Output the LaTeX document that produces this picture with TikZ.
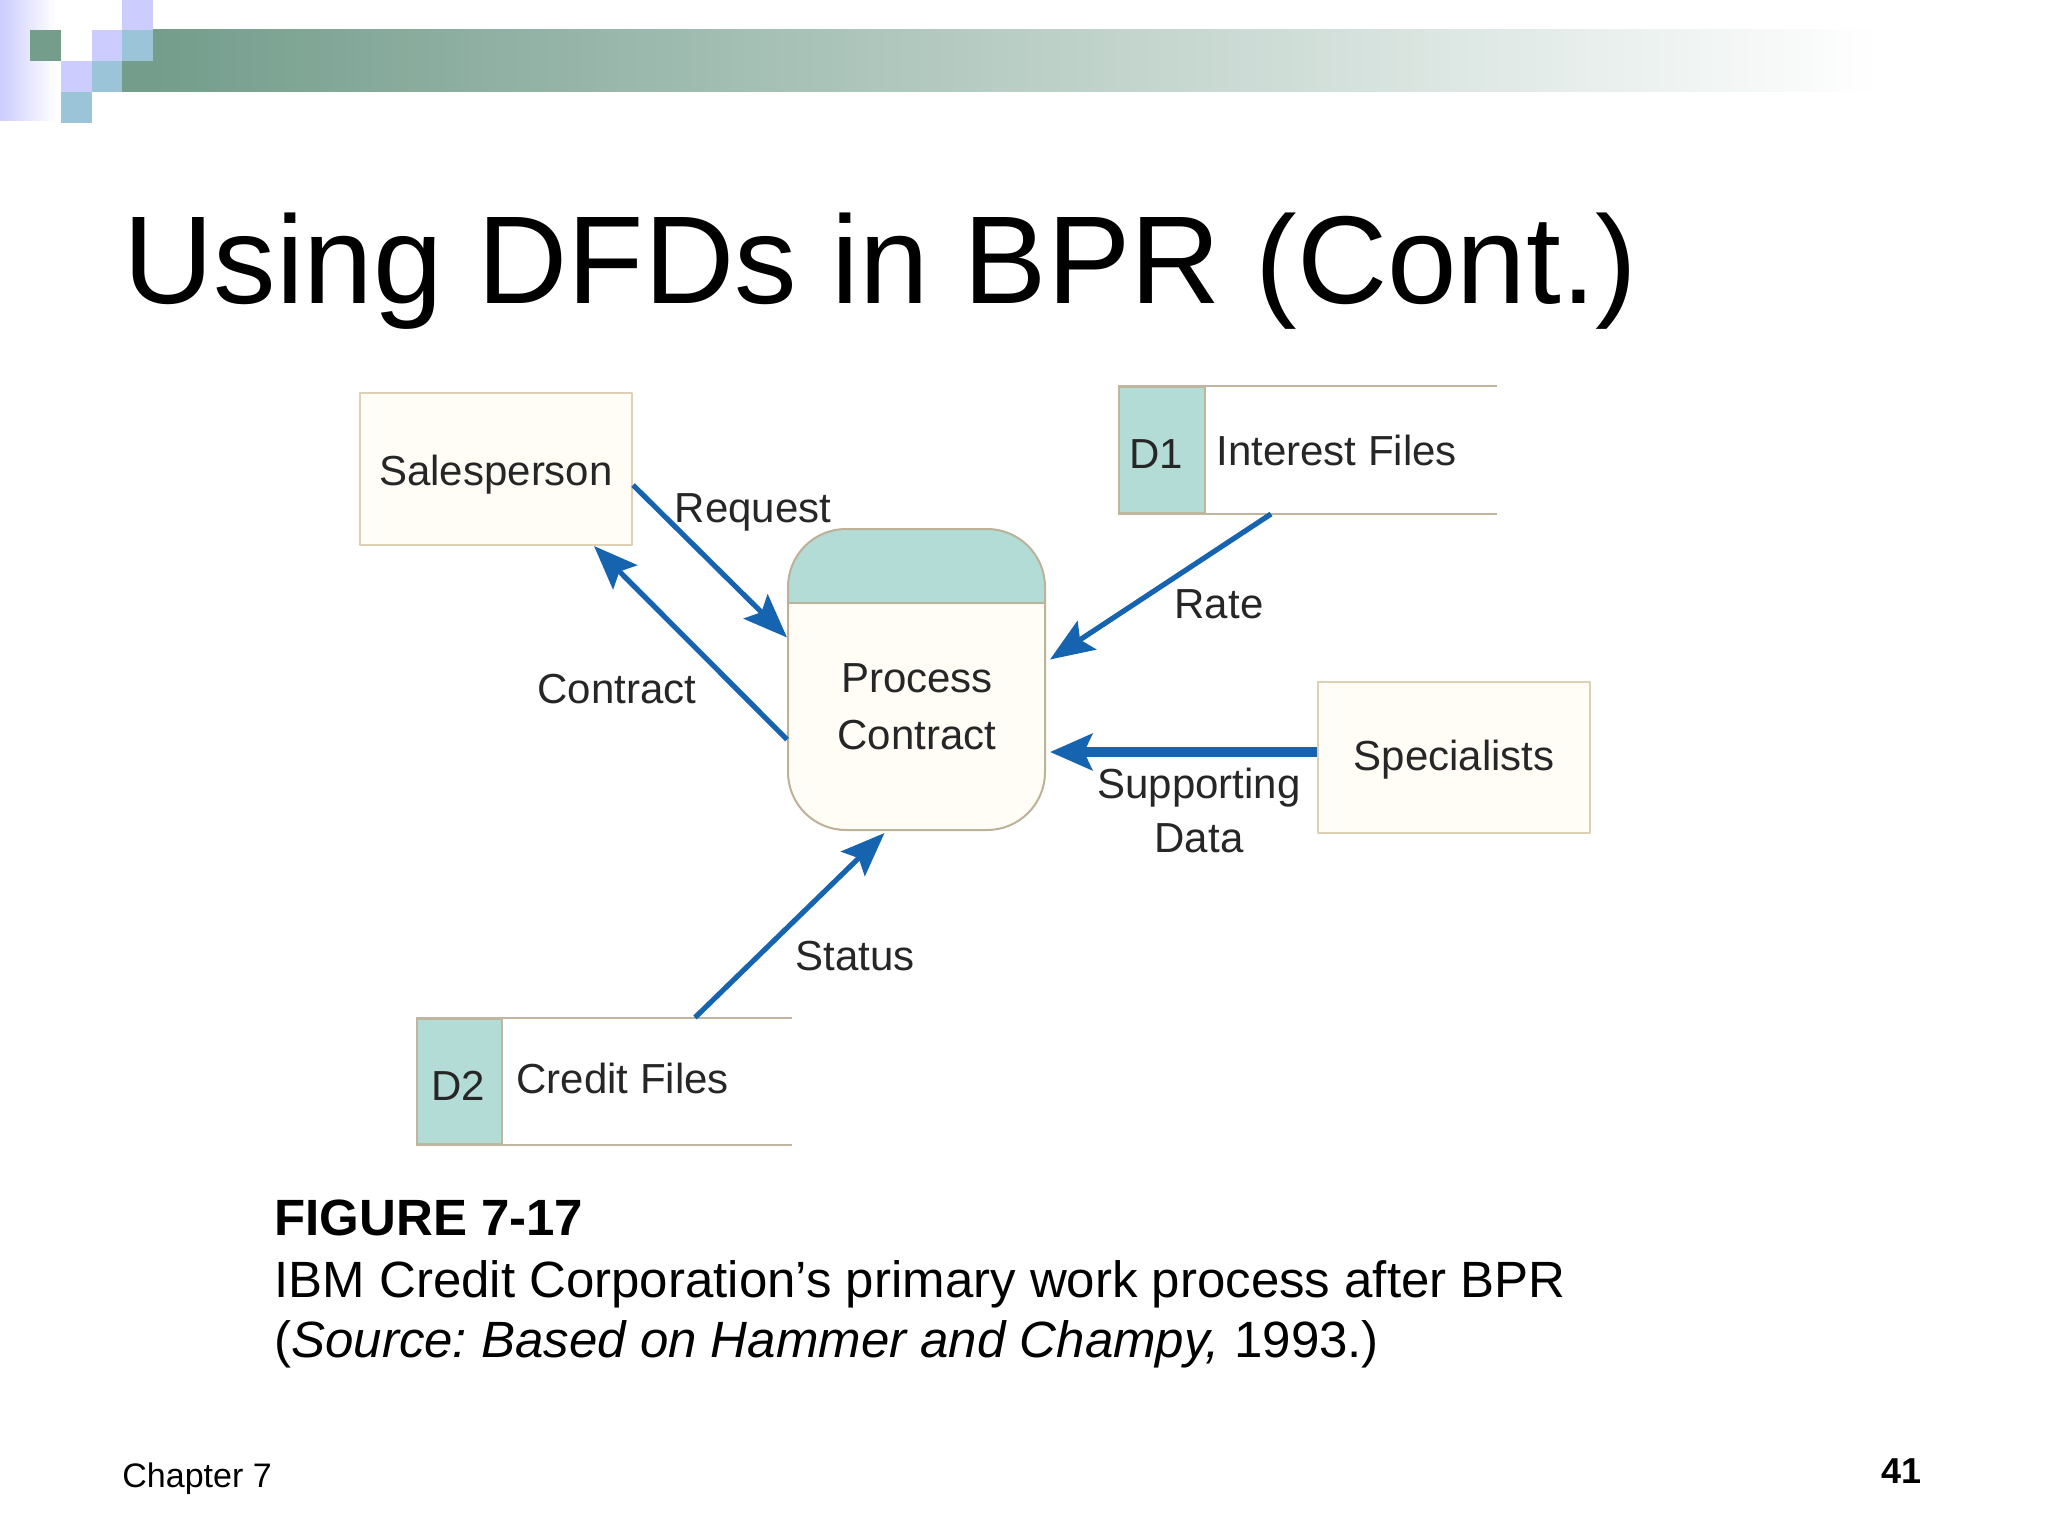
\documentclass[tikz,border=0pt]{standalone}
\usepackage{fontspec}
\setmainfont{Liberation Sans}
\usetikzlibrary{arrows.meta}
\definecolor{flowblue}{RGB}{22,100,176}
\definecolor{bandteal}{RGB}{178,220,213}
\definecolor{boxline}{RGB}{222,208,180}
\definecolor{storeline}{RGB}{192,182,160}
\definecolor{boxfill}{RGB}{255,253,246}
\definecolor{bargreen}{RGB}{116,157,140}
\definecolor{lav}{RGB}{204,204,255}
\definecolor{sqblue}{RGB}{155,196,216}
\newcommand\diagfont{\fontsize{21}{28.5}\selectfont}
\newcommand\ttlfont{\fontsize{62.5}{70}\selectfont}
\newcommand\capfont{\fontsize{25.5}{31}\selectfont}
\frenchspacing
\tikzset{
    entity/.style={draw=boxline,fill=boxfill,line width=1pt,minimum width=136pt,minimum height=76pt,inner sep=0pt,font=\diagfont,text=black!85},
    storecell/.style={draw=storeline,fill=bandteal,line width=1pt,minimum width=43pt,minimum height=63pt,inner sep=0pt,font=\diagfont,text=black!85},
    storeedge/.style={draw=storeline,line width=1pt},
    flow/.style={draw=flowblue,line width=2.6pt,-{Stealth[length=22pt,width=17pt,inset=4pt]}},
    bigflow/.style={flow,line width=5pt,-{Stealth[length=21pt,width=18pt,inset=4pt]}},
    lbl/.style={inner sep=0pt,font=\diagfont,text=black!85,anchor=base}
}
\begin{document}
\begin{tikzpicture}[x=0.5pt,y=-0.5pt,line join=round]
    \useasboundingbox[fill=white](0,0)rectangle(2048,1536);
    % header decoration
    \shade[left color=lav,right color=white](0,0)rectangle(56,120);
    \shade[left color=bargreen,right color=white](153,30)rectangle(1880,92);
    \foreach \x/\y/\c in{30/30/bargreen,61/61/lav,61/92/sqblue,92/30/lav,92/61/sqblue,122/0/lav,122/30/sqblue,122/61/bargreen}
    \fill[\c](\x,\y)rectangle++(31,31);
    \node[anchor=base west,inner sep=0pt,font=\ttlfont](title)at(123,303){Using DFDs in BPR (Cont.)};
    % diagram
    \node[entity](sales)at(496,469){};
    \node[lbl](salestext)at(496,485){Salesperson};
    \node[entity,minimum height=75.5pt](spec)at(1454,757.5){};
    \node[lbl](spectext)at(1454,770){Specialists};
    \node[draw=boxline!85!black,fill=boxfill,line width=1pt,rounded corners=29pt,minimum width=128.5pt,minimum height=150.5pt,
        path picture={\fill[bandteal,sharp corners](path picture bounding box.north west)rectangle([yshift=-37pt]path picture bounding box.north east);
        \draw[boxline!85!black,line width=1pt,sharp corners]([yshift=-37pt]path picture bounding box.north west)--([yshift=-37pt]path picture bounding box.north east);}]
        (proc)at(916.5,679.5){};
    \node[inner sep=0pt,align=center,font=\diagfont,text=black!85](proctext)at(917,707){Process\\Contract};
    \node[storecell](d1)at(1162,450){};
    \node[lbl](d1id)at(1156,468){D1};
    \draw[storeedge](d1.north west)--++(379,0)(d1.south west)--++(379,0);
    \node[lbl,anchor=base west](d1text)at(1216,465){Interest Files};
    \node[storecell,minimum width=42.5pt,minimum height=62.5pt](d2)at(459.5,1081){};
    \node[lbl](d2id)at(458,1100){D2};
    \draw[storeedge](d2.north west)--++(376,0)(d2.south west)--++(376,0);
    \node[lbl,anchor=base west](d2text)at(516,1093){Credit Files};
    % flows
    \draw[flow]([yshift=-8pt]sales.east)--([yshift=21pt]proc.west);
    \draw[flow]([yshift=-30pt]proc.west)--([xshift=49pt]sales.south);
    \draw[flow]([xshift=54.5pt]d1.south)--([xshift=2pt,yshift=10pt]proc.east);
    \draw[bigflow]([yshift=2.75pt]spec.west)--([yshift=2.75pt,xshift=2pt]spec.west-|proc.east);
    \draw[flow]([xshift=117.75pt]d2.north)--([xshift=-16pt,yshift=-1pt]proc.south);
    \node[lbl](req)at(753,522){Request};
    \node[lbl](con)at(617,703){Contract};
    \node[lbl](rate)at(1219,618){Rate};
    \node[lbl](supp)at(1199,798){Supporting};
    \node[lbl](data)at(1199,852){Data};
    \node[lbl](stat)at(855,970){Status};
    % caption and footer
    \node[anchor=base west,inner sep=0pt,font=\capfont\bfseries](fig)at(274,1235){FIGURE 7-17};
    \node[anchor=base west,inner sep=0pt,font=\capfont](cap)at(274,1297){IBM Credit Corporation’s primary work process after BPR};
    \node[anchor=base west,inner sep=0pt,font=\capfont](src)at(274,1357){(\textit{Source: Based on Hammer and Champy,} 1993.)};
    \node[anchor=base west,inner sep=0pt,font=\fontsize{17}{20}\selectfont](chap)at(122,1487){Chapter 7};
    \node[anchor=base east,inner sep=0pt,font=\fontsize{18}{20}\selectfont\bfseries](page)at(1922,1483){41};
\end{tikzpicture}
\end{document}
